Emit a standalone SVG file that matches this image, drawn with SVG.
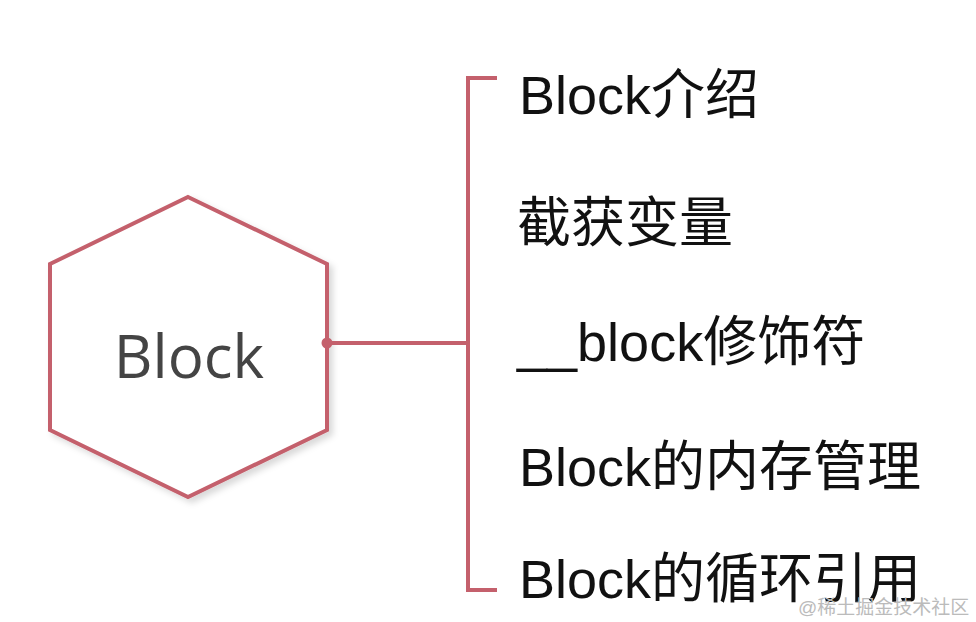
<svg xmlns="http://www.w3.org/2000/svg" width="976" height="622" viewBox="0 0 976 622">
  <defs>
    <style>
      .ln { stroke: #c4606c; stroke-width: 4; fill: none; stroke-linecap: butt; }
      .item { font-family: "Liberation Sans", "Noto Sans CJK SC", sans-serif; font-size: 54px; fill: #111; }
      .wm { font-family: "Liberation Sans", "Noto Sans CJK SC", sans-serif; font-size: 19px; fill: #bbb; }
    </style>
    <filter id="sh" x="-10%" y="-10%" width="130%" height="130%">
      <feDropShadow dx="4" dy="4" stdDeviation="3" flood-color="#000" flood-opacity="0.15"/>
    </filter>
  </defs>
  <rect width="976" height="622" fill="#fff"/>
  <g id="node-block">
    <polygon points="188,197 327,264 327,430 188,497 50,430 50,264" fill="#fff" stroke="#c4606c" stroke-width="4" filter="url(#sh)"/>
    <text x="189" y="378" text-anchor="middle" font-family="'Open Sans', 'Noto Sans', sans-serif" font-size="60" fill="#444">Block</text>
  </g>
  <g id="connectors">
    <line class="ln" x1="327" y1="343" x2="466" y2="343"/>
    <polyline class="ln" points="497,78 468,78 468,590 497,590"/>
    <circle cx="327" cy="343" r="5.5" fill="#c4606c"/>
  </g>
  <g id="item1"><text class="item" x="519" y="114">Block介绍</text></g>
  <g id="item2"><text class="item" x="517" y="242">截获变量</text></g>
  <g id="item3"><text class="item" x="517" y="361">__block修饰符</text></g>
  <g id="item4"><text class="item" x="519" y="486">Block的内存管理</text></g>
  <g id="item5"><text class="item" x="519" y="598">Block的循环引用</text></g>
  <g id="watermark">
    <text class="wm" x="798" y="614">@稀土掘金技术社区</text>
  </g>
</svg>
